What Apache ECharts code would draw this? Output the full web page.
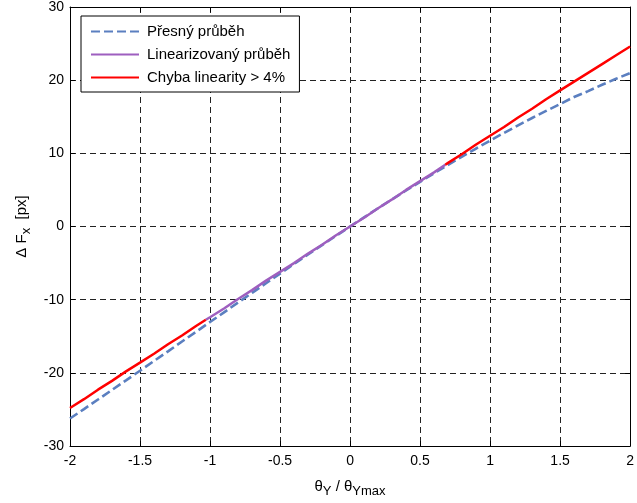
<!DOCTYPE html>
<html>
<head>
<meta charset="utf-8">
<script src="https://cdn.jsdelivr.net/npm/echarts@6.0.0/dist/echarts.min.js"></script>
<style>
  html, body { margin: 0; padding: 0; background: #fff; }
  #chart { width: 637px; height: 503px; }
</style>
</head>
<body>
<div id="chart"></div>
<script>
// Normalised rotation θY / θYmax
const thetaRatio = [
  -2.0, -1.9, -1.8, -1.7, -1.6, -1.5, -1.4, -1.3, -1.2, -1.1,
  -1.0, -0.9, -0.8, -0.7, -0.6, -0.5, -0.4, -0.3, -0.2, -0.1,
   0.0,  0.1,  0.2,  0.3,  0.4,  0.5,  0.6,  0.7,  0.8,  0.9,
   1.0,  1.1,  1.2,  1.3,  1.4,  1.5,  1.6,  1.7,  1.8,  1.9, 2.0
];

// Exact shift ΔFx [px]
const deltaExact = [
  -26.24, -24.95, -23.65, -22.34, -21.03, -19.71, -18.38, -17.06, -15.72, -14.39,
  -13.06, -11.73, -10.40,  -9.07,  -7.75,  -6.44,  -5.13,  -3.83,  -2.54,  -1.27,
    0.00,   1.25,   2.49,   3.72,   4.92,   6.11,   7.28,   8.43,   9.56,  10.66,
   11.74,  12.80,  13.82,  14.83,  15.80,  16.74,  17.70,  18.50,  19.38,  20.19, 20.96
];

// Linearised shift ΔFx [px]
const deltaLinear = [
  -24.8, -23.6, -22.3, -21.1, -19.8, -18.6, -17.4, -16.1, -14.9, -13.6,
  -12.4, -11.2,  -9.9,  -8.7,  -7.4,  -6.2,  -5.0,  -3.7,  -2.5,  -1.2,
    0.0,   1.2,   2.5,   3.7,   5.0,   6.2,   7.4,   8.7,   9.9,  11.2,
   12.4,  13.6,  14.9,  16.1,  17.4,  18.6,  19.8,  21.0,  22.2,  23.4, 24.6
];

// Where the linearity error crosses 4 %
const limitRatio = [-1.03, 0.68];
const limitLinear = [-12.75, 8.45];

const xTicks = { min: -2, max: 2, interval: 0.5 };
const yTicks = { min: -30, max: 30, interval: 10 };

const FONT = '"Liberation Sans", Arial, sans-serif';

const exactPts = thetaRatio.map((x, i) => [x, deltaExact[i]]);
const linPts = thetaRatio.map((x, i) => [x, deltaLinear[i]]);
const lo = [limitRatio[0], limitLinear[0]];
const hi = [limitRatio[1], limitLinear[1]];
const errLeft = linPts.filter(p => p[0] < limitRatio[0]).concat([lo]);
const inRange = [lo].concat(linPts.filter(p => p[0] > limitRatio[0] && p[0] < limitRatio[1])).concat([hi]);
const errRight = [hi].concat(linPts.filter(p => p[0] > limitRatio[1]));

const NAME_EXACT = 'Přesný průběh';
const NAME_LIN = 'Linearizovaný průběh';
const NAME_ERR = 'Chyba linearity > 4%';

const nameRich = {
  a: { fontSize: 15, fontFamily: FONT, color: '#000' },
  s: { fontSize: 13, fontFamily: FONT, color: '#000', padding: [10, 0, 0, 0] }
};

const boxAxis = (pos, t) => ({
  type: 'value', position: pos, min: t.min, max: t.max, interval: t.interval,
  axisLine: { show: true, onZero: false, lineStyle: { color: '#000', width: 1 } },
  axisTick: { show: true, inside: true, length: 5, lineStyle: { color: '#000' } },
  axisLabel: { show: false },
  splitLine: { show: false }
});

const chart = echarts.init(document.getElementById('chart'), null, { renderer: 'canvas' });
chart.setOption({
  animation: false,
  backgroundColor: '#fff',
  textStyle: { fontFamily: FONT, color: '#000' },
  grid: { left: 70, right: 4, top: 7, bottom: 56 },
  legend: {
    orient: 'vertical',
    left: 81, top: 16,
    data: [NAME_EXACT, NAME_LIN, NAME_ERR],
    itemWidth: 48, itemHeight: 10, itemGap: 8,
    padding: [8, 9, 7, 9],
    backgroundColor: '#fff',
    borderColor: '#000', borderWidth: 1, borderRadius: 0,
    itemStyle: { opacity: 0 },
    textStyle: { fontFamily: FONT, fontSize: 15, color: '#000', padding: [0, 0, 0, 3] }
  },
  xAxis: [
    {
      type: 'value', position: 'bottom',
      min: xTicks.min, max: xTicks.max, interval: xTicks.interval,
      axisLine: { show: true, onZero: false, lineStyle: { color: '#000', width: 1 } },
      axisTick: { show: true, inside: true, length: 5, lineStyle: { color: '#000' } },
      axisLabel: { color: '#000', fontSize: 14, fontFamily: FONT, margin: 8 },
      splitLine: { show: true, lineStyle: { color: '#222', width: 1, type: [6, 4] } },
      name: '{a|θ}{s|Y}{a| / θ}{s|Ymax}',
      nameLocation: 'middle', nameGap: 29,
      nameTextStyle: { rich: nameRich }
    },
    boxAxis('top', xTicks)
  ],
  yAxis: [
    {
      type: 'value', position: 'left',
      min: yTicks.min, max: yTicks.max, interval: yTicks.interval,
      axisLine: { show: true, onZero: false, lineStyle: { color: '#000', width: 1 } },
      axisTick: { show: true, inside: true, length: 5, lineStyle: { color: '#000' } },
      axisLabel: { color: '#000', fontSize: 14, fontFamily: FONT, margin: 6 },
      splitLine: { show: true, lineStyle: { color: '#222', width: 1, type: [6, 4] } },
      name: '{a|Δ F}{s|x}{a|  [px]}',
      nameLocation: 'middle', nameGap: 36, nameRotate: 90,
      nameTextStyle: { rich: nameRich }
    },
    boxAxis('right', yTicks)
  ],
  series: [
    {
      name: NAME_EXACT, type: 'line', xAxisIndex: 0, yAxisIndex: 0,
      data: exactPts, showSymbol: false, symbol: 'none', z: 2,
      lineStyle: { color: '#5b7fc0', width: 2.6, type: [9, 4], cap: 'butt' },
      itemStyle: { color: '#5b7fc0' }
    },
    {
      name: NAME_LIN, type: 'line', xAxisIndex: 0, yAxisIndex: 0,
      data: inRange, showSymbol: false, symbol: 'none', z: 3,
      lineStyle: { color: '#9e5fbf', width: 2.5 },
      itemStyle: { color: '#9e5fbf' }
    },
    {
      name: NAME_ERR, type: 'line', xAxisIndex: 0, yAxisIndex: 0,
      data: errLeft, showSymbol: false, symbol: 'none', z: 4,
      lineStyle: { color: '#ff0000', width: 2.5 },
      itemStyle: { color: '#ff0000' }
    },
    {
      name: NAME_ERR, type: 'line', xAxisIndex: 0, yAxisIndex: 0,
      data: errRight, showSymbol: false, symbol: 'none', z: 4,
      lineStyle: { color: '#ff0000', width: 2.5 },
      itemStyle: { color: '#ff0000' }
    }
  ]
});
</script>
</body>
</html>
